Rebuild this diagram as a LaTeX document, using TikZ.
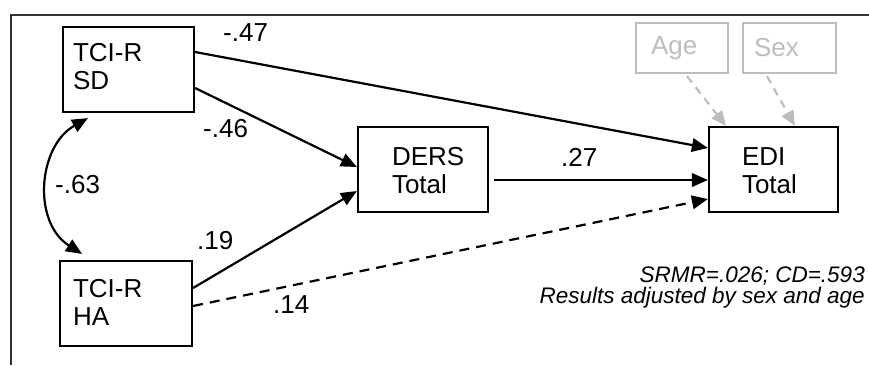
\documentclass[tikz,border=0pt]{standalone}
\usepackage{fontspec}
\setmainfont{Liberation Sans}
\usetikzlibrary{arrows.meta,calc}

\definecolor{covgray}{HTML}{BDBDBD}
\definecolor{framegray}{HTML}{333333}

\begin{document}
\begin{tikzpicture}[x=1pt,y=-1pt,
  box/.style={draw, line width=2.2pt, rectangle, align=left, inner ysep=0pt,
    minimum height=85pt, font=\fontsize{26}{28}\selectfont},
  covbox/.style={draw=covgray, text=covgray, line width=2.2pt, rectangle, align=left,
    inner ysep=0pt, minimum height=50pt, font=\fontsize{26}{28}\selectfont},
  coef/.style={anchor=base west, inner sep=0pt, font=\fontsize{26}{28}\selectfont},
  note/.style={anchor=base east, align=right, inner sep=0pt,
    font=\fontsize{22.5}{20.5}\selectfont\itshape},
  tip/.style={-{Triangle[length=16pt,width=13.5pt]}},
  path/.style={line width=2.2pt, tip},
  dashpath/.style={path, dash pattern=on 10pt off 7pt},
  covpath/.style={line width=2.2pt, draw=covgray, dash pattern=on 8pt off 6pt,
    -{Triangle[length=15pt,width=13pt]}},
  corr/.style={line width=2.2pt,
    {Triangle[length=16pt,width=13.5pt]}-{Triangle[length=16pt,width=13.5pt]}}
]
\useasboundingbox (0,0) rectangle (869,365);

% outer frame (open on the right and bottom)
\draw[framegray, line width=1.6pt] (11,365) -- (11,15) -- (869,15);

% variables
\node[box, inner xsep=10pt, text width=111pt, text depth=33.6pt] (sd) at (128.5,69.5) {TCI-R\\SD};
\node[box, inner xsep=13pt, text width=106pt, text depth=29.6pt] (ha) at (126,303.5)  {TCI-R\\HA};
\node[box, inner xsep=34pt, text width=62pt, text depth=25.6pt]  (ders) at (423,169.5)  {DERS\\Total};
\node[box, inner xsep=33pt, text width=63pt, text depth=25.6pt]  (edi)  at (773.5,169.5) {EDI\\Total};
\node[covbox, inner xsep=15pt, text width=62pt] (age) at (682,48)   {Age};
\node[covbox, inner xsep=11pt, text width=71pt] (sex) at (789.5,48) {Sex};

% structural paths
\draw[path] ([yshift=17.5pt]sd.east) -- ([yshift=21.5pt]edi.west);
\draw[path] ([yshift=-18.5pt]sd.east) -- ([yshift=2.5pt]ders.west);
\draw[path] ([yshift=15.5pt]ha.east) -- ([yshift=-21.5pt]ders.west);
\draw[path] ([xshift=5pt,yshift=-10.5pt]ders.east) -- ([yshift=-10.5pt]edi.west);
\draw[dashpath] ([yshift=-2.5pt]ha.east) -- ([yshift=-29.5pt]edi.west);

% covariates
\draw[covpath] ([xshift=5pt,yshift=-2pt]age.south) -- ([xshift=18pt]edi.north west);
\draw[covpath] ([xshift=-22.5pt,yshift=-2pt]sex.south) -- ([xshift=87pt]edi.north west);

% correlation between temperament dimensions
\coordinate (c1) at ([xshift=-40.5pt,yshift=-5pt]sd.south);
\coordinate (c2) at ([xshift=-44pt,yshift=6pt]ha.north);
\draw[corr] (c1) .. controls (38,146) and (32,222) .. (c2);

% coefficients
\node[coef] (k47) at (223,41)  {-.47};
\node[coef] (k46) at (203,137) {-.46};
\node[coef] (k63) at (55,193)  {-.63};
\node[coef] (k19) at (197,249) {.19};
\node[coef] (k14) at (273,313) {.14};
\node[coef] (k27) at (561,166) {.27};

% fit indices
\node[note] (fit) at (865,303) {SRMR=.026; CD=.593\\Results adjusted by sex and age};
\end{tikzpicture}
\end{document}
